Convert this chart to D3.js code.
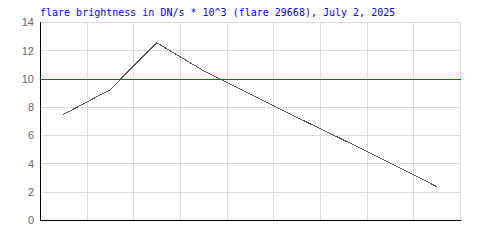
<!DOCTYPE html>
<html>
<head>
<meta charset="utf-8">
<script src="https://cdn.jsdelivr.net/npm/d3@7"></script>
<style>
  html, body { margin: 0; padding: 0; background: #fff; }
  svg { display: block; }
</style>
</head>
<body>
<script>
// ---- data ----
const titleText = "flare brightness in DN/s * 10^3 (flare 29668), July 2, 2025";
const categories = ["1", "2", "3", "4", "5", "6", "7", "8", "9"];
const brightness = [7.5, 9.24, 12.57, 10.6, 8.95, 7.3, 5.7, 4.07, 2.4];
const yTicks = [0, 2, 4, 6, 8, 10, 12, 14];
const yDomain = [0, 14];
const referenceLevel = [10];

// ---- layout ----
const W = 500, H = 250;
const pLeft = 40, pRight = 460, pTop = 22, pBottom = 220;

const svg = d3.select("body").append("svg")
  .attr("width", W).attr("height", H);

const x = d3.scaleBand().domain(categories).range([pLeft, pRight]).padding(0);
const y = d3.scaleLinear().domain(yDomain).range([pBottom + 0.5, pTop + 0.5]);

// horizontal gridlines
svg.append("g")
  .selectAll("line").data(yTicks).join("line")
  .attr("x1", pLeft).attr("x2", pRight + 1)
  .attr("y1", d => y(d)).attr("y2", d => y(d))
  .attr("stroke", "#dcdcdc").attr("stroke-width", 1)
  .attr("shape-rendering", "crispEdges");

// vertical gridlines (band boundaries)
const vgrid = categories.slice(1).map(c => x(c)).concat([pRight]);
svg.append("g")
  .selectAll("line").data(vgrid).join("line")
  .attr("x1", d => Math.round(d) + 0.5).attr("x2", d => Math.round(d) + 0.5)
  .attr("y1", pTop).attr("y2", pBottom)
  .attr("stroke", "#dcdcdc").attr("stroke-width", 1)
  .attr("shape-rendering", "crispEdges");

// reference line
svg.append("g")
  .selectAll("line").data(referenceLevel).join("line")
  .attr("x1", pLeft).attr("x2", pRight + 1)
  .attr("y1", d => y(d)).attr("y2", d => y(d))
  .attr("stroke", "#e00000").attr("stroke-width", 1)
  .attr("shape-rendering", "crispEdges");

// data line
const line = d3.line()
  .x((d, i) => x(categories[i]) + x.bandwidth() / 2)
  .y(d => y(d));
svg.append("path")
  .datum(brightness)
  .attr("d", line)
  .attr("fill", "none")
  .attr("stroke", "#555")
  .attr("stroke-width", 1)
  .attr("shape-rendering", "crispEdges");

// axes lines
svg.append("line")
  .attr("x1", pLeft + 0.5).attr("x2", pLeft + 0.5)
  .attr("y1", pTop).attr("y2", pBottom + 1)
  .attr("stroke", "#000").attr("shape-rendering", "crispEdges");
svg.append("line")
  .attr("x1", pLeft).attr("x2", pRight + 1)
  .attr("y1", pBottom + 0.5).attr("y2", pBottom + 0.5)
  .attr("stroke", "#000").attr("shape-rendering", "crispEdges");

// y tick labels
svg.append("g")
  .selectAll("text").data(yTicks).join("text")
  .attr("x", 34).attr("y", d => y(d))
  .attr("dy", "0.35em")
  .attr("text-anchor", "end")
  .attr("font-family", "Liberation Sans, Arial, sans-serif")
  .attr("font-size", 11)
  .attr("fill", "#666")
  .text(d => d);

// title
svg.append("text")
  .attr("x", 40).attr("y", 16)
  .attr("font-family", "DejaVu Sans Mono, monospace")
  .attr("font-size", 10)
  .attr("fill", "#0000ff")
  .text(titleText);
</script>
</body>
</html>
